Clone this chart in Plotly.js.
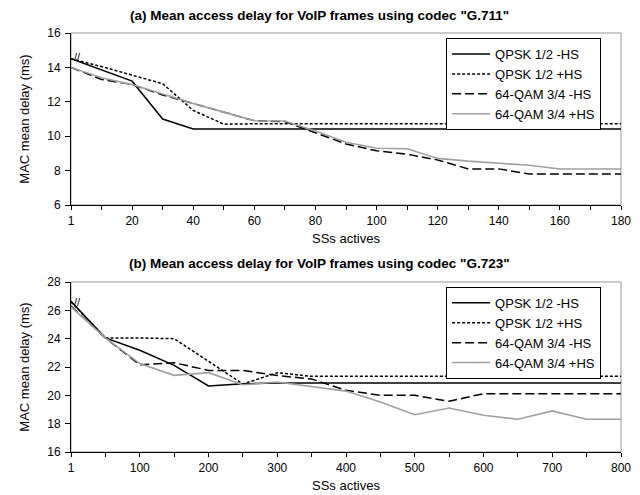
<!DOCTYPE html>
<html><head><meta charset="utf-8">
<script src="https://cdn.plot.ly/plotly-3.0.1.min.js"></script>
<style>html,body{margin:0;padding:0;background:#fff}</style>
</head><body><div id="chart" style="width:640px;height:495px"></div>
<script>
// (a) G.711
const catsA = ["1","10","20","30","40","50","60","70","80","90","100","110","120","130","140","150","160","170","180"];
const tickLabelsA = ["1","","20","","40","","60","","80","","100","","120","","140","","160","","180"];
const qpskMinusA = [14.5,13.85,13.2,11.0,10.42,10.42,10.42,10.42,10.42,10.42,10.42,10.42,10.42,10.42,10.42,10.42,10.42,10.42,10.42];
const qpskPlusA  = [14.5,14.05,13.55,13.05,11.5,10.7,10.72,10.72,10.72,10.72,10.72,10.72,10.72,10.72,10.72,10.72,10.72,10.72,10.72];
const qamMinusA  = [14.0,13.3,13.0,12.4,11.9,11.4,10.9,10.85,10.2,9.55,9.15,8.95,8.62,8.1,8.1,7.8,7.8,7.8,7.8];
const qamPlusA   = [14.0,13.4,13.0,12.45,11.9,11.4,10.9,10.88,10.3,9.65,9.3,9.27,8.71,8.55,8.44,8.31,8.09,8.09,8.09];
// (b) G.723
const catsB = ["1","50","100","150","200","250","300","350","400","450","500","550","600","650","700","750","800"];
const tickLabelsB = ["1","","100","","200","","300","","400","","500","","600","","700","","800"];
const qpskMinusB = [26.64,24.05,23.18,22.12,20.66,20.82,20.87,20.87,20.87,20.87,20.87,20.87,20.87,20.87,20.87,20.87,20.87];
const qpskPlusB  = [26.6,24.05,24.05,24.0,22.4,20.8,21.6,21.34,21.34,21.34,21.34,21.34,21.34,21.34,21.34,21.34,21.34];
const qamMinusB  = [26.3,24.05,22.16,22.3,21.76,21.76,21.4,21.15,20.36,20.0,20.0,19.58,20.12,20.12,20.12,20.12,20.12];
const qamPlusB   = [26.24,24.05,22.24,21.41,21.6,20.75,20.94,20.6,20.3,19.53,18.63,19.1,18.59,18.31,18.9,18.31,18.31];
const seriesNames = ["QPSK 1/2 -HS","QPSK 1/2 +HS","64-QAM 3/4 -HS","64-QAM 3/4 +HS"];

const styles = [
  {color:'#000000', width:1.5, dash:'solid'},
  {color:'#000000', width:1.5, dash:'3px,2px'},
  {color:'#000000', width:1.5, dash:'9px,4px'},
  {color:'#a0a0a0', width:1.6, dash:'solid'}
];
const dataA = [qpskMinusA, qpskPlusA, qamMinusA, qamPlusA];
const dataB = [qpskMinusB, qpskPlusB, qamMinusB, qamPlusB];
const traces = [];
dataA.forEach((ys,i)=>traces.push({x:catsA,y:ys,type:'scatter',mode:'lines',name:seriesNames[i],
  line:styles[i],xaxis:'x',yaxis:'y',legend:'legend'}));
dataB.forEach((ys,i)=>traces.push({x:catsB,y:ys,type:'scatter',mode:'lines',name:seriesNames[i],
  line:styles[i],xaxis:'x2',yaxis:'y2',legend:'legend2'}));

const F = 'Liberation Sans, Arial, sans-serif';
const axisCommon = {showgrid:false, zeroline:false, showline:true, linecolor:'#000', linewidth:1,
  ticks:'outside', ticklen:4, tickcolor:'#000', tickfont:{family:F,size:12,color:'#000'}};
const xCommon = Object.assign({}, axisCommon, {type:'category', ticklabelstandoff:1,
  title:{text:'SSs actives', font:{family:F,size:13}, standoff:6}});
const yCommon = Object.assign({}, axisCommon, {dtick:2, ticklen:5, ticklabelstandoff:2,
  title:{text:'MAC mean delay (ms)', font:{family:F,size:13}, standoff:14}});
const legendCommon = {x:0.682, xanchor:'left', yanchor:'top', bgcolor:'#fff', bordercolor:'#000', borderwidth:1,
  font:{family:F,size:13,color:'#000'}, itemwidth:38, tracegroupgap:0};

const layout = {
  width:640, height:495,
  margin:{l:71,r:19,t:33,b:43},
  paper_bgcolor:'#fff', plot_bgcolor:'#fff',
  font:{family:F,size:12,color:'#000'},
  xaxis:Object.assign({}, xCommon, {range:[0,18], tickvals:catsA, ticktext:tickLabelsA, anchor:'y'}),
  yaxis:Object.assign({}, yCommon, {domain:[0.5895,1], range:[6,16], anchor:'x'}),
  xaxis2:Object.assign({}, xCommon, {range:[0,16], tickvals:catsB, ticktext:tickLabelsB, anchor:'y2'}),
  yaxis2:Object.assign({}, yCommon, {domain:[0,0.4057], range:[16,28], anchor:'x2'}),
  legend:Object.assign({}, legendCommon, {y:0.988}),
  legend2:Object.assign({}, legendCommon, {y:0.394}),
  showlegend:true,
  shapes:[
    {type:'rect', xref:'x domain', yref:'y domain', x0:0, x1:1, y0:0, y1:1, line:{color:'#999',width:1}, layer:'below'},
    {type:'rect', xref:'x2 domain', yref:'y2 domain', x0:0, x1:1, y0:0, y1:1, line:{color:'#999',width:1}, layer:'below'}
  ],
  annotations:[
    {text:'<b>(a) Mean access delay for VoIP frames using codec "G.711"</b>', xref:'paper', yref:'paper',
      x:0.4527, y:1, yshift:18, xanchor:'center', yanchor:'middle', showarrow:false,
      font:{family:F, size:13.5, color:'#000'}},
    {text:'<b>(b) Mean access delay for VoIP frames using codec "G.723"</b>', xref:'paper', yref:'paper',
      x:0.4527, y:0.4057, yshift:19, xanchor:'center', yanchor:'middle', showarrow:false,
      font:{family:F, size:13.5, color:'#000'}},
    {text:'//', xref:'x domain', yref:'y', x:0, y:14.6, xshift:1, showarrow:false,
      font:{family:F,size:11,color:'#000'}},
    {text:'//', xref:'x2 domain', yref:'y2', x:0, y:26.6, xshift:1, showarrow:false,
      font:{family:F,size:11,color:'#000'}}
  ]
};
Plotly.newPlot('chart', traces, layout, {displayModeBar:false, staticPlot:true});
</script></body></html>
